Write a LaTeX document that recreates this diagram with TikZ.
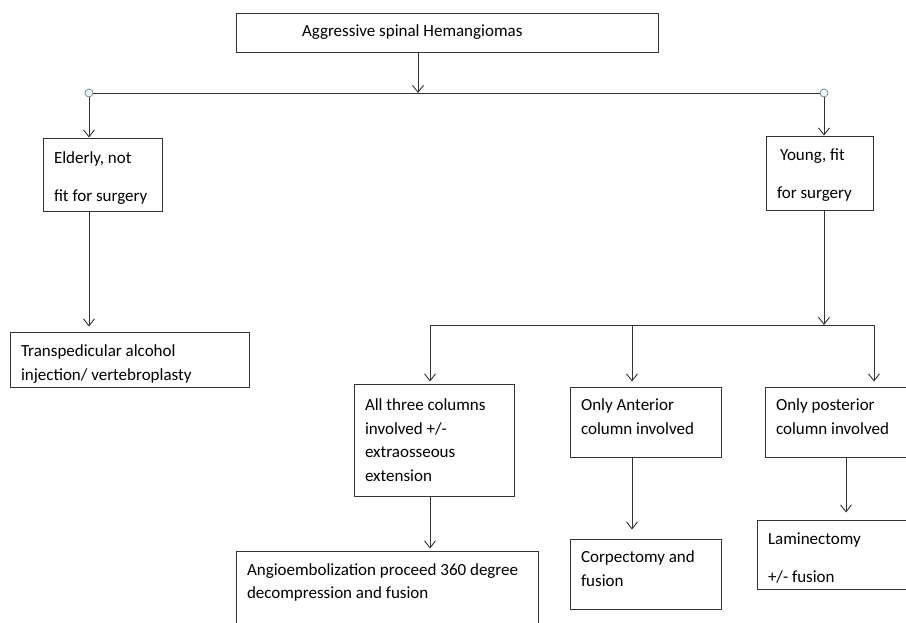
\documentclass[tikz,border=0pt]{standalone}
\usepackage{fontspec}
\setmainfont{Carlito}
\usepackage{tikz}
\usetikzlibrary{arrows.meta,positioning}

\begin{document}
\begin{tikzpicture}[
  x=1pt, y=-1pt,
  font=\fontsize{17}{23.5}\selectfont,
  box/.style={draw=black!80, line width=0.9pt, align=flush left, inner xsep=11pt, inner ysep=0pt},
  line/.style={draw=black!80, line width=0.9pt, -{Straight Barb[length=7pt,width=11pt]}},
  plain/.style={draw=black!80, line width=0.9pt},
  knob/.style={circle, draw=gray!60!cyan!70!black, fill=cyan!6, line width=0.7pt, minimum size=8pt, inner sep=0pt}
]
\useasboundingbox (0,0) rectangle (906,623);
\clip (0,0) rectangle (906,623);

% boxes
\node[box, text width=400, minimum height=39] (top) at (447,32.5) {\hspace*{55pt}Aggressive spinal Hemangiomas};
\node[box, text width=97, minimum height=73] (elderly) at (102.5,174.5) {\rule{0pt}{18.5pt}Elderly, not\\[14.5pt]fit for surgery};
\node[box, text width=85, minimum height=74] (young) at (819.5,173) {\rule{0pt}{16pt}\hspace*{3pt}Young, fit\\[14.5pt]for surgery};
\node[box, text width=217, minimum height=55] (transp) at (129.5,359.5) {\rule{0pt}{20.5pt}Transpedicular alcohol\\injection/ vertebroplasty};
\node[box, text width=138, minimum height=112] (three) at (434,440) {All three columns\\involved +/-\\extraosseous\\extension};
\node[box, text width=129, minimum height=70] (anterior) at (645.5,422) {Only Anterior\\column involved\rule[-10.5pt]{0pt}{10.5pt}};
\node[box, text width=129, minimum height=70] (posterior) at (840.5,422) {Only posterior\\column involved\rule[-10.5pt]{0pt}{10.5pt}};
\node[box, text width=280, minimum height=90] (angio) at (387,596) {Angioembolization proceed 360 degree\\decompression and fusion\rule[-29.5pt]{0pt}{29.5pt}};
\node[box, text width=129, minimum height=70] (corp) at (645.5,574) {Corpectomy and\\fusion\rule[-10.5pt]{0pt}{10.5pt}};
\node[box, text width=129, minimum height=69] (lamin) at (832.5,554.5) {\rule{0pt}{18.5pt}Laminectomy\\[14.5pt]+/- fusion};

% junctions
\coordinate (split) at (418,93);
\coordinate (lsplit) at (89,93);
\coordinate (rsplit) at (824,93);
\coordinate (ysplit) at (824,325);
\coordinate (ya) at (430,325);
\coordinate (yb) at (632,325);
\coordinate (yc) at (874,325);
\coordinate (pdown) at (846,457);

% connectors
\draw[line] (split |- top.south) -- (split);
\draw[plain] (lsplit) -- (rsplit);
\draw[line] (lsplit) -- (lsplit |- elderly.north);
\draw[line] (rsplit) -- (rsplit |- young.north);
\node[knob] at (lsplit) {};
\node[knob] at (rsplit) {};
\draw[line] (elderly.south -| lsplit) -- ([yshift=5pt]lsplit |- transp.north);
\draw[line] (young.south -| ysplit) -- (ysplit);
\draw[plain] (ya) -- (yc);
\draw[line] (ya) -- ([yshift=2pt]ya |- three.north);
\draw[line] (yb) -- ([yshift=5pt]yb |- anterior.north);
\draw[line] (yc) -- ([yshift=5pt]yc |- posterior.north);
\draw[line] (three.south -| ya) -- ([yshift=2pt]ya |- angio.north);
\draw[line] (anterior.south -| yb) -- ([yshift=9pt]yb |- corp.north);
\draw[line] (posterior.south -| pdown) -- ([yshift=7pt]pdown |- lamin.north);
\end{tikzpicture}
\end{document}
